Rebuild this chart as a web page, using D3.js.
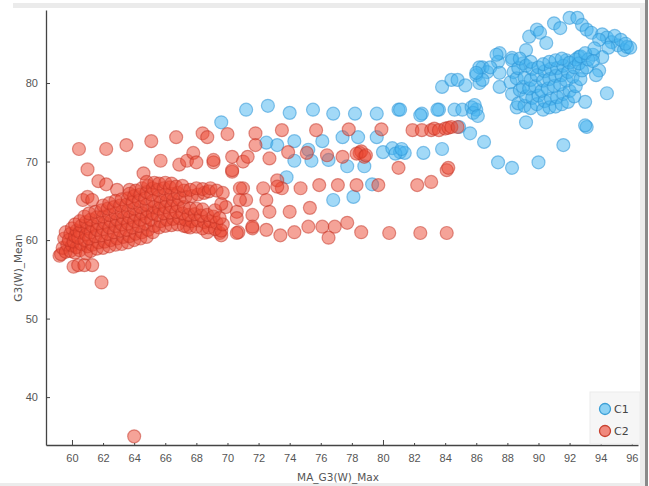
<!DOCTYPE html>
<html>
<head>
<meta charset="utf-8">
<script src="https://cdn.jsdelivr.net/npm/d3@7"></script>
<style>
  body { margin: 0; background: #ffffff; }
  svg { display: block; font-family: "DejaVu Sans", Verdana, sans-serif; }
</style>
</head>
<body>
<svg id="svg" width="649" height="486"></svg>
<script>
// Data
const classNames = ["C1", "C2"];
const xTicks = [60, 62, 64, 66, 68, 70, 72, 74, 76, 78, 80, 82, 84, 86, 88, 90, 92, 94, 96];
const yTicks = [40, 50, 60, 70, 80];

// C1: blue points [MA_G3(W)_Max, G3(W)_Mean]
const c1Points = [
  [69.6,75.0],[71.2,76.6],[72.6,77.1],[74.0,76.2],[75.5,76.6],[76.8,76.1],[78.2,76.1],[79.6,76.1],
  [81.0,76.6],[82.5,76.1],[83.6,76.6],[72.5,72.4],[73.2,72.1],[74.3,72.6],[75.2,71.5],[74.3,70.1],
  [75.4,70.1],[76.1,72.6],[76.5,70.2],[77.4,73.1],[78.4,73.1],[77.7,69.4],[78.8,69.4],[79.6,73.1],
  [80.0,71.2],[80.6,71.7],[81.1,71.2],[81.4,71.1],[80.8,71.0],[81.2,71.6],[82.6,71.1],[83.8,71.6],
  [73.8,68.0],[79.3,67.1],[76.8,65.1],[78.1,65.5],[84.9,74.4],[85.6,73.6],[86.5,72.5],[87.4,69.9],
  [88.3,69.2],[90.0,69.9],[91.6,72.1],[93.1,74.4],[94.4,78.7],[93.0,77.6],[89.2,75.0],[88.6,76.9],
  [83.8,79.5],[84.4,80.4],[84.8,80.4],[85.3,79.7],[86.0,81.0],[86.4,82.0],[86.7,81.4],[87.5,83.8],
  [87.4,82.7],[86.2,80.0],[87.5,79.5],[88.3,83.2],[89.0,82.5],[89.2,84.2],[89.4,85.9],[89.9,86.8],
  [90.1,86.4],[90.5,85.1],[91.0,87.6],[91.4,87.0],[92.0,88.3],[92.5,88.3],[92.8,87.4],[93.1,86.8],
  [93.4,86.4],[94.1,86.2],[94.4,85.8],[94.7,85.2],[95.1,84.8],[95.5,84.2],[94.9,86.0],[95.3,85.5],
  [95.7,84.6],[94.5,84.5],[93.9,85.5],[95.9,84.5],[95.6,85.0],[94.1,83.3],[93.9,81.6],[93.7,81.0],
  [81.1,76.6],[82.4,75.9],[83.5,76.6],[84.6,76.6],[85.1,76.6],[86.0,76.6],[85.7,76.9],[85.8,76.2],
  [85.9,77.2],[86.1,75.8],[87.3,83.6],[86.2,82.0],[86.9,82.0],[86.4,80.4],[87.5,81.3],[86.0,81.3],
  [91.8,82.9],[92.6,83.3],[93.5,83.6],[93.0,74.6],
  [88.3,78.6],[88.2,80.1],[88.4,81.4],[88.3,82.9],
  [88.7,77.4],[88.8,79.1],[88.6,80.6],[88.7,81.9],[88.8,83.1],
  [89.1,77.1],[89.2,78.3],[89.0,79.5],[89.1,80.7],[89.2,82.2],
  [89.5,76.8],[89.6,78.1],[89.4,79.3],[89.5,80.4],[89.6,81.8],[89.5,82.7],
  [89.9,77.3],[90.0,78.4],[89.8,79.6],[89.9,81.0],[90.0,82.0],
  [90.3,76.6],[90.4,77.7],[90.2,79.0],[90.3,80.3],[90.4,81.5],[90.3,82.4],
  [90.7,76.9],[90.8,78.0],[90.6,79.3],[90.7,80.5],[90.8,81.8],[90.7,82.7],
  [91.1,77.0],[91.2,78.2],[91.0,79.6],[91.1,80.9],[91.2,81.9],[91.1,82.9],
  [91.5,77.3],[91.6,78.6],[91.4,79.8],[91.5,81.0],[91.6,82.2],[91.5,83.1],
  [91.9,77.6],[92.0,79.0],[91.8,80.3],[91.9,81.4],[92.0,82.6],
  [92.3,78.3],[92.4,79.6],[92.2,80.8],[92.3,82.0],[92.4,83.0],
  [92.7,80.5],[92.8,81.6],[92.6,82.5],[92.7,83.4],
  [93.1,82.0],[93.2,83.0],[93.0,83.8],
  [93.5,82.8],[93.6,84.4]
];

// C2: red points [MA_G3(W)_Max, G3(W)_Mean]
const c2Points = [
  [64.0,35.0],[59.2,58.0],[60.1,56.6],[60.4,56.8],[60.8,56.8],[61.3,56.8],[61.9,54.6],
  [60.45,71.6],[61.0,69.0],[62.2,71.6],[63.5,72.1],[65.1,72.6],[66.7,73.1],[68.4,73.6],[68.7,73.1],
  [65.7,70.1],[66.9,69.6],[67.4,70.1],[67.8,71.1],[68.0,69.9],[69.1,69.9],[64.6,68.5],[61.7,67.5],
  [62.2,67.1],[60.7,65.1],[61.0,65.5],[61.3,65.1],[62.9,66.4],[63.7,66.4],[70.3,68.7],[70.6,63.6],
  [70.7,61.0],[69.5,60.9],
  [70.0,73.5],[71.8,73.6],[73.5,74.0],[75.7,74.0],[77.8,74.1],[79.9,74.1],
  [81.9,74.0],[82.5,74.0],[83.1,74.0],[83.3,74.2],[83.6,74.0],[84.0,74.2],[84.2,74.3],[84.4,74.4],[84.8,74.4],
  [71.8,72.1],[70.3,70.6],[69.1,70.2],[71.0,70.0],[71.3,70.6],[72.7,70.4],[73.9,71.2],[75.1,71.1],
  [76.4,70.8],[77.4,70.6],[78.5,71.1],[78.8,70.6],[78.6,71.3],[78.3,71.0],[78.9,70.8],[81.0,69.2],
  [70.3,68.9],[73.2,67.6],[73.5,66.6],[74.7,66.6],[75.9,67.0],[77.1,67.0],[78.3,67.0],[79.7,67.0],
  [82.2,67.0],[83.1,67.4],[71.0,66.6],[72.3,66.6],[72.7,63.6],[74.0,63.6],[75.3,64.1],[71.6,63.2],
  [71.6,61.5],[72.5,61.3],[73.4,60.6],[74.3,61.0],[75.2,61.7],[76.1,61.7],[76.9,61.7],[77.7,62.2],
  [76.5,60.3],[78.6,61.0],[80.4,60.9],[82.4,60.9],[84.1,60.9],[84.1,68.9],[84.2,69.2],
  [70.8,66.6],[71.2,65.1],[72.5,65.1],[71.6,61.7],[70.6,62.8],[69.9,64.2],[70.8,65.1],[73.2,66.8],
  [69.6,60.6],[70.6,60.9],[67.4,61.7],[68.7,61.0],
  [59.3,58.2],[59.4,59.0],
  [59.6,58.5],[59.7,59.4],[59.5,60.2],[59.6,61.0],
  [59.9,58.6],[60.0,59.3],[59.8,60.0],[59.9,60.8],[60.0,61.5],
  [60.2,58.4],[60.3,59.1],[60.1,59.8],[60.2,60.5],[60.3,61.2],[60.2,62.0],
  [60.5,58.7],[60.6,59.5],[60.4,60.3],[60.5,61.0],[60.6,61.8],[60.5,62.4],
  [60.9,58.3],[61.0,59.2],[60.8,60.0],[60.9,60.7],[61.0,61.5],[60.9,62.3],[60.8,63.0],
  [61.2,58.6],[61.3,59.4],[61.1,60.2],[61.2,61.0],[61.3,61.8],[61.2,62.6],[61.1,63.4],
  [61.6,58.9],[61.7,59.7],[61.5,60.5],[61.6,61.3],[61.7,62.1],[61.6,62.9],[61.5,63.6],
  [62.0,59.0],[62.1,59.8],[61.9,60.6],[62.0,61.4],[62.1,62.2],[62.0,63.0],[61.9,63.8],[62.0,64.4],
  [62.4,59.2],[62.5,60.0],[62.3,60.8],[62.4,61.6],[62.5,62.4],[62.4,63.2],[62.3,64.0],[62.4,64.7],
  [62.8,59.4],[62.9,60.2],[62.7,61.0],[62.8,61.8],[62.9,62.6],[62.8,63.4],[62.7,64.2],[62.8,65.0],
  [63.2,59.5],[63.3,60.4],[63.1,61.2],[63.2,62.0],[63.3,62.8],[63.2,63.6],[63.1,64.4],[63.2,65.2],
  [63.6,59.7],[63.7,60.5],[63.5,61.3],[63.6,62.1],[63.7,62.9],[63.6,63.7],[63.5,64.5],[63.6,65.3],[63.7,65.9],
  [64.0,60.0],[64.1,60.8],[63.9,61.6],[64.0,62.4],[64.1,63.2],[64.0,64.0],[63.9,64.8],[64.0,65.6],[64.1,66.3],
  [64.4,60.2],[64.5,61.0],[64.3,61.8],[64.4,62.6],[64.5,63.4],[64.4,64.2],[64.3,65.0],[64.4,65.8],[64.5,66.6],
  [64.8,60.4],[64.9,61.3],[64.7,62.1],[64.8,62.9],[64.9,63.7],[64.8,64.5],[64.7,65.3],[64.8,66.1],[64.9,66.9],[64.8,67.4],
  [65.2,61.0],[65.3,61.8],[65.1,62.6],[65.2,63.4],[65.3,64.2],[65.2,65.0],[65.1,65.8],[65.2,66.6],[65.3,67.3],
  [65.6,61.6],[65.7,62.4],[65.5,63.2],[65.6,64.0],[65.7,64.8],[65.6,65.6],[65.5,66.4],[65.6,67.2],
  [66.0,61.8],[66.1,62.6],[65.9,63.4],[66.0,64.2],[66.1,65.0],[66.0,65.8],[65.9,66.6],[66.0,67.3],
  [66.4,61.9],[66.5,62.7],[66.3,63.5],[66.4,64.3],[66.5,65.1],[66.4,65.9],[66.3,66.7],[66.4,67.2],
  [66.8,62.0],[66.9,62.8],[66.7,63.6],[66.8,64.4],[66.9,65.2],[66.8,66.0],[66.7,66.8],
  [67.2,61.8],[67.3,62.6],[67.1,63.4],[67.2,64.2],[67.3,65.5],[67.2,66.3],[67.1,66.9],
  [67.6,61.6],[67.7,62.4],[67.5,63.2],[67.6,64.0],[67.7,65.6],[67.6,66.4],
  [68.0,61.7],[68.1,62.5],[67.9,63.3],[68.0,64.0],[68.1,65.8],[68.0,66.6],
  [68.4,61.5],[68.5,62.3],[68.3,63.1],[68.4,63.9],[68.5,66.0],[68.4,66.5],
  [68.8,61.6],[68.9,62.4],[68.7,63.2],[68.8,66.2],[68.9,66.6],
  [69.2,61.4],[69.3,62.2],[69.1,63.0],[69.2,63.8],[69.3,66.3],
  [69.6,61.2],[69.7,62.0],[69.5,62.8],[69.6,64.6],[69.7,66.0]
];

const POINT_RADIUS = 6.5;

const svg = d3.select("#svg");

// Panel frame
svg.append("rect").attr("x", 13).attr("y", 3).attr("width", 630).attr("height", 5).attr("fill", "#ebebeb");
svg.append("rect").attr("x", 640).attr("y", 3).attr("width", 5).attr("height", 483).attr("fill", "#ececec");
svg.append("rect").attr("x", 645).attr("y", 0).attr("width", 3).attr("height", 486).attr("fill", "#8a8a8a");
svg.append("rect").attr("x", 0).attr("y", 483).attr("width", 645).attr("height", 3).attr("fill", "#ececec");

// Scales
const x = d3.scaleLinear().domain([58.33, 96.4]).range([46, 638]);
const y = d3.scaleLinear().domain([33.9, 89.3]).range([445, 10]);

// Points
const series = [
  {name: classNames[0], points: c1Points, fill: "rgba(70,180,240,0.5)", stroke: "rgba(45,150,215,0.55)"},
  {name: classNames[1], points: c2Points, fill: "rgba(235,72,50,0.5)", stroke: "rgba(195,50,35,0.5)"}
];

series.forEach(s => {
  svg.append("g")
    .selectAll("circle")
    .data(s.points)
    .enter().append("circle")
    .attr("cx", d => x(d[0]))
    .attr("cy", d => y(d[1]))
    .attr("r", POINT_RADIUS)
    .attr("fill", s.fill)
    .attr("stroke", s.stroke)
    .attr("stroke-width", 1.2);
});

// Axes
const xAxis = svg.append("g").attr("transform", "translate(0,445)")
  .call(d3.axisBottom(x).tickValues(xTicks).tickSizeInner(-3).tickSizeOuter(0).tickPadding(9));
const yAxis = svg.append("g").attr("transform", "translate(46,0)")
  .call(d3.axisLeft(y).tickValues(yTicks).tickSizeInner(-4).tickSizeOuter(0).tickPadding(8));

[xAxis, yAxis].forEach(a => {
  a.select(".domain").attr("stroke", "#444").attr("stroke-width", 1.3);
  a.selectAll(".tick line").attr("stroke", "#444");
  a.selectAll(".tick text").attr("fill", "#555").attr("font-size", 11);
});
xAxis.selectAll(".tick line").attr("y2", d => d % 20 === 0 ? -5 : -2);

// Axis titles
svg.append("text")
  .attr("x", 338).attr("y", 481)
  .attr("text-anchor", "middle")
  .attr("font-size", 10.5)
  .attr("fill", "#555")
  .text("MA_G3(W)_Max");

svg.append("text")
  .attr("transform", "translate(22,268) rotate(-90)")
  .attr("text-anchor", "middle")
  .attr("font-size", 10.5)
  .attr("fill", "#555")
  .text("G3(W)_Mean");

// Legend
const legend = svg.append("g");
legend.append("rect")
  .attr("x", 590).attr("y", 392).attr("width", 50).attr("height", 52)
  .attr("fill", "#f6f6f6").attr("stroke", "#ececec");
const legendColors = [["#8dd2f4", "#3c9fd6"], ["#f0897d", "#c8412f"]];
classNames.forEach((name, i) => {
  legend.append("circle")
    .attr("cx", 605).attr("cy", 409 + i * 22).attr("r", 5.5)
    .attr("fill", legendColors[i][0]).attr("stroke", legendColors[i][1]).attr("stroke-width", 1.3);
  legend.append("text")
    .attr("x", 614).attr("y", 413 + i * 22)
    .attr("font-size", 11).attr("fill", "#444")
    .text(name);
});
</script>
</body>
</html>
